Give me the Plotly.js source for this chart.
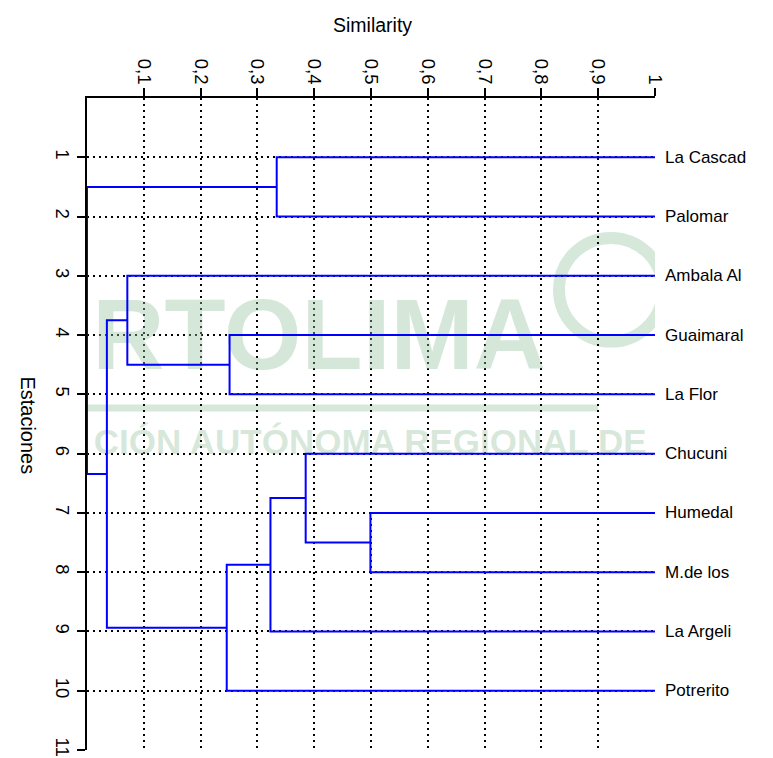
<!DOCTYPE html>
<html>
<head>
<meta charset="utf-8">
<script src="https://cdn.plot.ly/plotly-3.0.1.min.js"></script>
<style>html,body{margin:0;padding:0;background:#fff;}#chart{width:773px;height:758px;}</style>
</head>
<body>
<div id="chart"></div>
<script>
// ---- data ----
const stations = ["La Cascad","Palomar","Ambala Al","Guaimaral","La Flor","Chucuni","Humedal","M.de los","La Argeli","Potrerito"];
const leafPositions = [1,2,3,4,5,6,7,8,9,10];
// merges: [childA, childB, similarity]; children "L#" = leaf, "M#" = earlier merge (0-based)
const mergeA = ["L1","L4","L3","L7","L6","M4","M5","M2","M0"];
const mergeB = ["L2","L5","M1","L8","M3","L9","L10","M6","M7"];
const mergeSim = [0.334, 0.251, 0.071, 0.499, 0.385, 0.323, 0.246, 0.035, 0.0];
const xTickVals = [0.1,0.2,0.3,0.4,0.5,0.6,0.7,0.8,0.9,1];
const xTickText = ["0,1","0,2","0,3","0,4","0,5","0,6","0,7","0,8","0,9","1"];
const yTickVals = [1,2,3,4,5,6,7,8,9,10,11];
const yTickText = ["1","2","3","4","5","6","7","8","9","10","11"];

// ---- build dendrogram segments ----
const nodes = {};
stations.forEach((s,i)=>{ nodes["L"+(i+1)] = {y: leafPositions[i], x: 1}; });
const lx = [], ly = [];
mergeSim.forEach((h,i)=>{
  const a = nodes[mergeA[i]], b = nodes[mergeB[i]];
  lx.push(a.x, h, h, b.x, null);
  ly.push(a.y, a.y, b.y, b.y, null);
  nodes["M"+i] = {x: h, y: (a.y+b.y)/2};
});

const FONT = "Liberation Sans, Arial, sans-serif";
const wm = "rgba(150,195,160,0.40)";
const traces = [
  {x:[0.808], y:[5.0], mode:"text", text:["RTOLIMA"], textposition:"top left",
   textfont:{family:FONT, size:100, color:wm, weight:"bold"},
   hoverinfo:"skip", showlegend:false},
  {x:[0.012], y:[5.85], mode:"text", text:["CIÓN AUTÓNOMA REGIONAL DE"], textposition:"middle right",
   textfont:{family:FONT, size:35, color:wm, weight:"bold"},
   hoverinfo:"skip", showlegend:false},
  {x:lx, y:ly, mode:"lines", line:{color:"#0000ff", width:2}, hoverinfo:"skip", showlegend:false}
];

const annotations = stations.map((s,i)=>({
  x:1, xref:"paper", y:leafPositions[i], yref:"y", text:s, showarrow:false,
  xanchor:"left", xshift:8, font:{family:FONT, size:17, color:"#000"}
}));
annotations.push({x:0.502, xref:"paper", y:1.112, yref:"paper", text:"Similarity", showarrow:false,
  xanchor:"center", yanchor:"middle", font:{family:FONT, size:19.5, color:"#000"}});
annotations.push({x:-0.104, xref:"paper", y:0.498, yref:"paper", text:"Estaciones", showarrow:false, textangle:90,
  xanchor:"center", yanchor:"middle", font:{family:FONT, size:20, color:"#000"}});

const axisCommon = {
  ticks:"outside", ticklen:8, tickwidth:2, tickcolor:"#000",
  showline:true, linewidth:2, linecolor:"#000",
  showgrid:true, gridcolor:"#000", griddash:"2px,4px", gridwidth:2,
  zeroline:false, tickfont:{size:18.5, family:FONT, color:"#000"}, fixedrange:true, tickangle:90
};

const layout = {
  width:773, height:758,
  margin:{l:87, r:118, t:98, b:8},
  paper_bgcolor:"#fff", plot_bgcolor:"#fff",
  font:{family:FONT, color:"#000"},
  xaxis:Object.assign({range:[0,1], side:"top", tickvals:xTickVals, ticktext:xTickText, ticklabelstandoff:-3}, axisCommon),
  yaxis:Object.assign({range:[11,0], tickvals:yTickVals, ticktext:yTickText, ticklabelstandoff:-1}, axisCommon),
  shapes:[
    {type:"line", xref:"x", yref:"y", x0:0, x1:0.9, y0:5.23, y1:5.23, layer:"below",
     line:{color:"#d5e8da", width:7}},
    {type:"circle", xref:"x", yref:"y", x0:0.831, x1:1.014, y0:2.36, y1:4.11, layer:"below",
     line:{color:"#d5e8da", width:12}}
  ],
  annotations:annotations,
  showlegend:false
};

Plotly.newPlot("chart", traces, layout, {displayModeBar:false, staticPlot:true});
</script>
</body>
</html>
